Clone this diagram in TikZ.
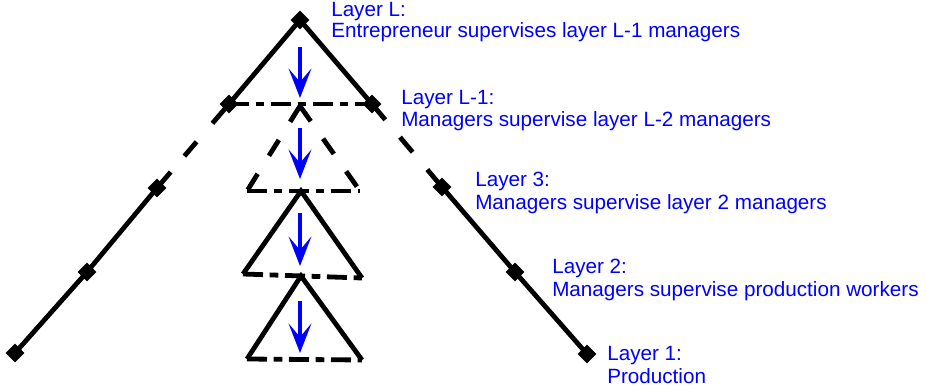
\documentclass[tikz,border=0pt]{standalone}
\usepackage{fontspec}
\setmainfont{Liberation Sans}
\usetikzlibrary{arrows.meta,calc}
\definecolor{labelblue}{RGB}{0,0,255}
\tikzset{
  frame/.style={line width=3.6pt, black},
  guide/.style={frame, dash pattern=on 15pt off 5pt on 6.5pt off 5pt},
  sidedash/.style={frame, dash pattern=on 14pt off 16pt},
  joint/.style={rectangle, fill=black, inner sep=0pt, minimum size=10pt, rotate=45},
  flow/.style={labelblue, line width=3.6pt, -{Stealth[length=22pt,width=17pt,inset=10pt]}},
  caption/.style={text=labelblue, anchor=base west, inner sep=0pt,
    font=\fontsize{15.5pt}{16.8pt}\selectfont},
}
\begin{document}
\begin{tikzpicture}[x=0.75pt, y=-0.75pt]
\useasboundingbox (0,0) rectangle (926,392);

% hierarchy joints on the two outer edges
\coordinate (top) at (300,20);
\coordinate (lm1) at (229,104);
\coordinate (l3) at (157,188);
\coordinate (l2) at (87,272);
\coordinate (l1) at (15,353);
\coordinate (rm1) at (372,104);
\coordinate (r3) at (442,187);
\coordinate (r2) at (515,272);
\coordinate (r1) at (587,354);

% left edge, broken between layer L-1 and layer 3
\draw[frame] (top) -- (lm1) -- ($(lm1)!.23!(l3)$);
\draw[frame] ($(lm1)!.45!(l3)$) -- ($(lm1)!.62!(l3)$);
\draw[frame] ($(lm1)!.81!(l3)$) -- (l3) -- (l2) -- (l1);

% right edge, broken the same way
\draw[frame] (top) -- (rm1) -- ($(rm1)!.19!(r3)$);
\draw[frame] ($(rm1)!.40!(r3)$) -- ($(rm1)!.58!(r3)$);
\draw[frame] ($(rm1)!.79!(r3)$) -- (r3) -- (r2) -- (r1);

% span of control of layer L
\draw[guide] (lm1) -- (rm1);

% inner triangles
\coordinate (a1) at (300,106);
\coordinate (t1l) at (247,191);
\coordinate (t1r) at (360,191);
\draw[sidedash] (a1) -- (t1l);
\draw[sidedash] (a1) -- (t1r);
\draw[guide] (t1l) -- (t1r);

\coordinate (a2) at (301,191);
\coordinate (t2l) at (243,274);
\coordinate (t2r) at (362,278);
\draw[frame] (t2l) -- (a2) -- (t2r);
\draw[guide] (t2l) -- (t2r);

\coordinate (a3) at (301,276);
\coordinate (t3l) at (247,359);
\coordinate (t3r) at (362,360);
\draw[frame] (t3l) -- (a3) -- (t3r);
\draw[guide] (t3l) -- (t3r);

% joints
\foreach \p in {top,lm1,l3,l2,l1,rm1,r3,r2,r1}
  \node[joint] (j-\p) at (\p) {};

% supervision flows
\coordinate (f1s) at (300,47);  \coordinate (f1e) at (300,98);
\coordinate (f2s) at (300,128); \coordinate (f2e) at (300,179);
\coordinate (f3s) at (300,213); \coordinate (f3e) at (300,266);
\coordinate (f4s) at (300,301); \coordinate (f4e) at (300,353);
\draw[flow] (f1s) -- (f1e);
\draw[flow] (f2s) -- (f2e);
\draw[flow] (f3s) -- (f3e);
\draw[flow] (f4s) -- (f4e);

% layer captions
\node[caption] (capL)  at (331,17)  {Layer L:};
\node[caption] (capLd) at (331,38)  {Entrepreneur supervises layer L-1 managers};
\node[caption] (capM)  at (401,105) {Layer L-1:};
\node[caption] (capMd) at (401,127) {Managers supervise layer L-2 managers};
\node[caption] (cap3)  at (475,187) {Layer 3:};
\node[caption] (cap3d) at (475,210) {Managers supervise layer 2 managers};
\node[caption] (cap2)  at (552,274) {Layer 2:};
\node[caption] (cap2d) at (552,297) {Managers supervise production workers};
\node[caption] (cap1)  at (607,361) {Layer 1:};
\node[caption] (cap1d) at (607,383) {Production};
\end{tikzpicture}
\end{document}
